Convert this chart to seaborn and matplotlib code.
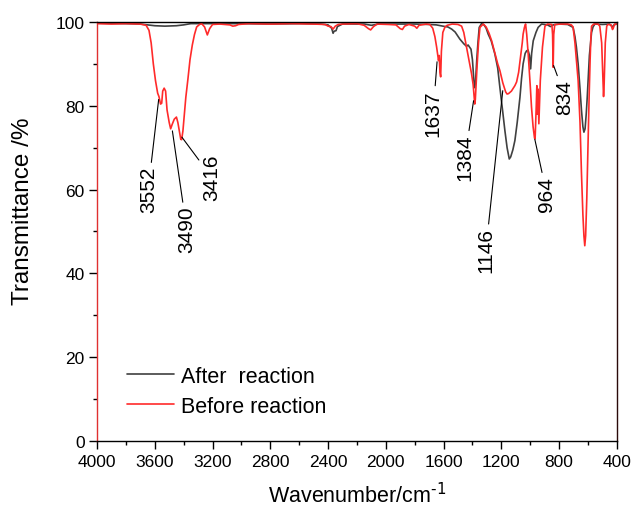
# FTIR spectra before / after reaction
import seaborn as sns
import matplotlib.pyplot as plt
import pandas as pd
from matplotlib.ticker import MultipleLocator

# Before reaction (red), wavenumber in cm-1 and transmittance in %
before_wn = [4000, 3900, 3800, 3700, 3660, 3640, 3625, 3610, 3595, 3580, 3571, 3560,
             3552, 3545, 3535, 3525, 3515, 3500, 3490, 3480, 3465, 3450, 3440, 3430,
             3420, 3414, 3405, 3395, 3385, 3370, 3356, 3340, 3325, 3310, 3290, 3275,
             3255, 3236, 3220, 3200, 3150, 3080, 3060, 3040, 3020, 2950, 2800, 2650,
             2500, 2420, 2400, 2380, 2365, 2350, 2330, 2300, 2200, 2150, 2120, 2105,
             2085, 2060, 1980, 1930, 1900, 1885, 1870, 1840, 1800, 1785, 1770, 1720,
             1695, 1675, 1660, 1648, 1640, 1635, 1630, 1625, 1620, 1615, 1605, 1590,
             1575, 1540, 1500, 1475, 1460, 1441, 1425, 1406, 1395, 1388, 1384, 1380,
             1375, 1367, 1358, 1348, 1325, 1305, 1285, 1267, 1245, 1225, 1210, 1190,
             1170, 1160, 1150, 1130, 1106, 1094, 1080, 1067, 1055, 1049, 1040, 1032,
             1024, 1014, 1000, 991, 980, 970, 966, 958, 954, 950, 946, 940, 930, 915,
             898, 880, 850, 845, 841, 837, 830, 780, 740, 715, 703, 690, 680, 668, 655,
             645, 635, 628, 622, 616, 608, 600, 592, 585, 580, 575, 560, 530, 518, 505,
             498, 492, 488, 480, 470, 462, 440, 430, 425, 415, 400]
before_t = [99.6, 99.5, 99.6, 99.5, 99.2, 98.0, 95.0, 90.0, 86.0, 83.0, 82.2, 80.4,
            80.6, 83.5, 84.2, 83.5, 79.0, 76.0, 74.5, 75.5, 76.8, 77.3, 76.0, 74.0,
            72.0, 71.9, 74.0, 78.0, 82.0, 86.5, 91.0, 94.5, 97.0, 98.8, 99.4, 99.6,
            98.8, 96.9, 98.4, 99.4, 99.5, 99.3, 99.0, 99.1, 99.4, 99.6, 99.5, 99.6,
            99.5, 99.4, 99.0, 98.9, 98.3, 99.0, 99.4, 99.5, 99.6, 99.2, 98.4, 98.1,
            98.9, 99.5, 99.4, 99.3, 98.4, 98.2, 99.0, 99.4, 99.0, 98.5, 99.2, 99.5,
            99.4, 98.5, 96.5, 94.0, 92.0, 90.8, 92.0, 88.0, 86.9, 93.0, 97.5, 98.8,
            99.2, 99.5, 99.4, 99.0, 97.5, 94.0, 91.0, 87.6, 85.0, 82.0, 80.4, 81.5,
            85.0, 90.0, 95.0, 98.7, 99.5, 98.8, 97.3, 95.5, 92.6, 90.0, 88.4, 85.5,
            83.3, 82.8, 82.9, 83.5, 84.8, 85.7, 88.0, 91.6, 95.0, 97.1, 98.7, 99.5,
            97.0, 92.4, 85.0, 79.7, 75.0, 72.3, 72.1, 80.0, 84.8, 78.0, 84.0, 75.7, 86.0, 94.0,
            99.0, 99.5, 99.4, 97.0, 89.2, 97.0, 99.4, 99.5, 99.5, 99.3, 98.8, 95.0, 91.0, 86.0, 76.0,
            64.0, 54.0, 49.0, 46.6, 49.0, 58.0, 70.0, 82.0, 91.0, 96.0, 99.0, 99.5, 99.5, 99.0, 95.0,
            88.0, 82.2, 85.0, 95.0, 99.0, 99.4, 99.3, 98.2, 98.5, 99.5, 99.5]

# After reaction (dark grey)
after_wn = [4000, 3800, 3700, 3650, 3600, 3530, 3450, 3400, 3350, 3000, 2800, 2600,
            2450, 2400, 2375, 2365, 2358, 2345, 2335, 2300, 2150, 2100, 2050, 1800,
            1700, 1650, 1605, 1570, 1544, 1520, 1487, 1460, 1441, 1430, 1420, 1410,
            1400, 1390, 1384, 1378, 1370, 1362, 1353, 1337, 1320, 1305, 1291, 1270,
            1245, 1225, 1210, 1190, 1175, 1160, 1145, 1135, 1120, 1106, 1090, 1071,
            1060, 1049, 1035, 1025, 1015, 1005, 997, 990, 979, 960, 945, 921, 880,
            860, 840, 800, 740, 703, 690, 680, 668, 655, 645, 635, 628, 620, 612, 605,
            599, 590, 575, 565, 552, 500, 450, 430, 420, 400]
after_t = [99.7, 99.6, 99.5, 99.3, 99.1, 99.0, 99.1, 99.3, 99.6, 99.6, 99.5, 99.6,
           99.5, 99.3, 98.5, 97.3, 97.8, 97.9, 98.9, 99.5, 99.5, 99.2, 99.5, 99.5,
           99.4, 99.3, 99.0, 98.8, 98.3, 97.6, 95.9, 94.8, 94.2, 94.5, 94.0, 93.5,
           91.0, 86.0, 84.3, 86.0, 91.0, 95.0, 98.7, 99.6, 99.3, 98.5, 97.1, 95.5,
           92.4, 89.0, 84.4, 78.5, 74.0, 70.0, 67.3, 67.8, 69.5, 71.7, 76.0, 82.0,
           86.5, 90.0, 92.5, 93.1, 93.3, 92.0, 88.8, 92.5, 95.5, 97.5, 98.7, 99.5, 99.3,
           98.9, 99.3, 99.5, 99.4, 98.7, 96.5, 94.0, 90.0, 84.0, 79.0, 75.0, 73.7, 74.5, 78.0, 82.0,
           86.0, 92.0, 97.5, 98.8, 99.5, 99.4, 99.5, 98.8, 99.3, 99.5]

# Peak labels: text, point on the curve, text top position
peak_labels = ["3552", "3490", "3416", "1637", "1384", "1146", "964", "834"]
peak_xy = [(3573, 81.5), (3478, 74.0), (3412, 72.5), (1645, 90.5),
           (1392, 81.2), (1190, 83.6), (968, 72.0), (838, 89.6)]
label_xy = [(3645, 65.7), (3379, 56.2), (3206, 68.5), (1672, 84.0),
            (1452, 73.3), (1307, 51.0), (887, 63.3), (760, 86.4)]

sns.set_style("ticks")
plt.rcParams["font.family"] = ["Liberation Sans", "DejaVu Sans"]
plt.rcParams["mathtext.default"] = "regular"
plt.rcParams["axes.unicode_minus"] = False
for key in ["text.color", "axes.labelcolor", "xtick.color", "ytick.color", "axes.edgecolor"]:
    plt.rcParams[key] = "black"

before = pd.DataFrame({"wn": before_wn, "t": before_t})
after = pd.DataFrame({"wn": after_wn, "t": after_t})

fig = plt.figure(figsize=(6.32, 5.10), dpi=100)
ax = fig.add_axes([0.1535, 0.1333, 0.8225, 0.8217])

sns.lineplot(data=after, x="wn", y="t", ax=ax, color="#404040", lw=1.2,
             label="After  reaction")
sns.lineplot(data=before, x="wn", y="t", ax=ax, color="#ff2a2a", lw=1.2,
             label="Before reaction")

for txt, xy, xyt in zip(peak_labels, peak_xy, label_xy):
    ax.annotate(txt, xy=xy, xytext=xyt, rotation=90, ha="center", va="top",
                fontsize=15,
                arrowprops=dict(arrowstyle="-", color="black", lw=0.8,
                                shrinkA=0, shrinkB=0))

ax.set_xlim(4000, 400)
ax.set_ylim(0, 100)
ax.xaxis.set_major_locator(MultipleLocator(400))
ax.xaxis.set_minor_locator(MultipleLocator(200))
ax.yaxis.set_major_locator(MultipleLocator(20))
ax.yaxis.set_minor_locator(MultipleLocator(10))
ax.tick_params(which="major", length=6, width=1, labelsize=12.5, pad=3)
ax.tick_params(which="minor", length=3, width=1)
ax.spines["left"].set_color("#e03030")
ax.spines["right"].set_color("#2a0a0a")
for s in ax.spines.values():
    s.set_linewidth(1.0)

ax.set_xlabel("Wavenumber/cm$^{\\text{-1}}$", fontsize=15.5, labelpad=10)
ax.set_ylabel("Transmittance /%", fontsize=17.5)
ax.yaxis.set_label_coords(-0.122, 0.55)

ax.legend(loc="lower left", bbox_to_anchor=(0.02, 0.012), frameon=False,
          fontsize=15.5, handlelength=2.2, handletextpad=0.3, labelspacing=0.4)

fig.savefig("out.png", dpi=100)
